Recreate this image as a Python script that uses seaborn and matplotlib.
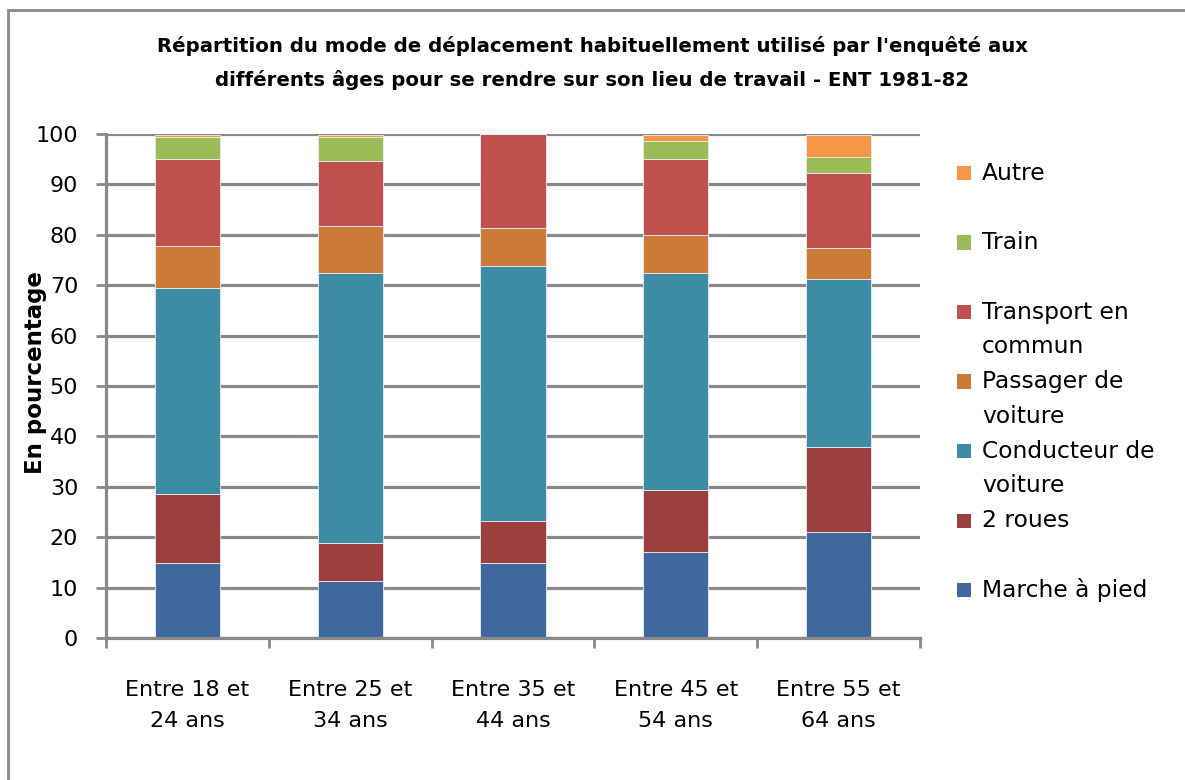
import matplotlib
matplotlib.use("Agg")
import matplotlib.pyplot as plt
import matplotlib.patches as mpatches
import numpy as np
import pandas as pd
import seaborn as sns

# Data (percent of each age group)
ages = ["Entre 18 et\n24 ans", "Entre 25 et\n34 ans", "Entre 35 et\n44 ans",
        "Entre 45 et\n54 ans", "Entre 55 et\n64 ans"]
marche = [14.9, 11.3, 14.9, 17.0, 21.0]
deux_roues = [13.6, 7.5, 8.3, 12.4, 16.8]
conducteur = [40.9, 53.7, 50.7, 43.1, 33.5]
passager = [8.4, 9.3, 7.4, 7.5, 6.1]
transport = [17.2, 12.8, 18.7, 15.0, 14.9]
train = [4.4, 4.8, 0.0, 3.6, 3.1]
autre = [0.5, 0.5, 0.0, 1.3, 4.5]

modes = ["Marche à pied", "2 roues", "Conducteur de\nvoiture", "Passager de\nvoiture",
         "Transport en\ncommun", "Train", "Autre"]
colors = ["#41689D", "#9C3F3F", "#3D8BA4", "#CB7A37", "#C0504D", "#9BBB59", "#F79646"]

sns.set_theme(style="white")
plt.rcParams['font.family'] = ['DejaVu Sans']
plt.rcParams['text.color'] = 'black'

GREY = "#898989"
W, H = 1185, 780

df = pd.DataFrame({"age": ages, "Marche à pied": marche, "2 roues": deux_roues,
                   "Conducteur de\nvoiture": conducteur, "Passager de\nvoiture": passager,
                   "Transport en\ncommun": transport, "Train": train, "Autre": autre})

fig = plt.figure(figsize=(W / 100, H / 100), dpi=100)
ax = fig.add_axes([106 / W, 1 - 638 / H, 814 / W, 504 / H])

# stacked bars, one seaborn call per mode
bottom = np.zeros(len(ages))
for mode, col in zip(modes, colors):
    sns.barplot(data=df, x="age", y=mode, bottom=bottom, color=col, width=0.4,
                ax=ax, edgecolor="#E8EEF4", linewidth=0.6, saturation=1)
    bottom = bottom + df[mode].to_numpy()

ax.set_ylim(0, 100)
ax.set_xlim(-0.5, len(ages) - 0.5)
ax.set_yticks(np.arange(0, 101, 10))
ax.yaxis.grid(True, color=GREY, linewidth=2.3)
ax.xaxis.grid(False)
ax.set_axisbelow(True)

for side in ["top", "right"]:
    ax.spines[side].set_visible(False)
for side in ["left", "bottom"]:
    ax.spines[side].set_color(GREY)
    ax.spines[side].set_linewidth(2.3)

ax.tick_params(axis="y", left=True, length=7, width=2, color=GREY, pad=13,
               labelsize=16, labelcolor="black")
ax.set_xticks(np.arange(len(ages)))
ax.set_xticklabels(ages, linespacing=1.7)
ax.set_xticks(np.arange(-0.5, len(ages), 1), minor=True)
ax.tick_params(axis="x", which="major", length=0, pad=30, labelsize=16, labelcolor="black")
ax.tick_params(axis="x", which="minor", bottom=True, length=7, width=2, color=GREY)

ax.set_xlabel("")
ax.set_ylabel("En pourcentage", fontsize=16.5, fontweight="bold", color="black")
ax.yaxis.set_label_coords(-0.072, 0.526)

# legend laid out like the Excel one: one line per slot, reversed order,
# single-line entries leave an empty slot below them
slot_h = 34.75
slot = 0
for mode, col in list(zip(modes, colors))[::-1]:
    y_px = 173 + slot * slot_h
    fig.add_artist(mpatches.Rectangle((957 / W, 1 - (y_px + 7) / H), 14 / W, 14 / H,
                                      transform=fig.transFigure, facecolor=col,
                                      edgecolor="none"))
    lines = mode.split("\n")
    for k, line in enumerate(lines):
        fig.text(982 / W, 1 - (y_px + k * slot_h) / H, line, fontsize=16.8,
                 va="center", ha="left", color="black")
    slot += 2 if len(lines) == 1 else len(lines)

fig.suptitle("Répartition du mode de déplacement habituellement utilisé par l'enquêté aux\n"
             "différents âges pour se rendre sur son lieu de travail - ENT 1981-82",
             x=0.5, y=0.954, fontsize=14.2, fontweight="bold", linespacing=1.9,
             color="black")

# outer chart border
fig.add_artist(mpatches.Rectangle((8 / W, -0.05), 1.1, 1 - 10 / H + 0.05,
                                  transform=fig.transFigure, fill=False,
                                  edgecolor=GREY, linewidth=2))

fig.savefig("out.png", dpi=100)
